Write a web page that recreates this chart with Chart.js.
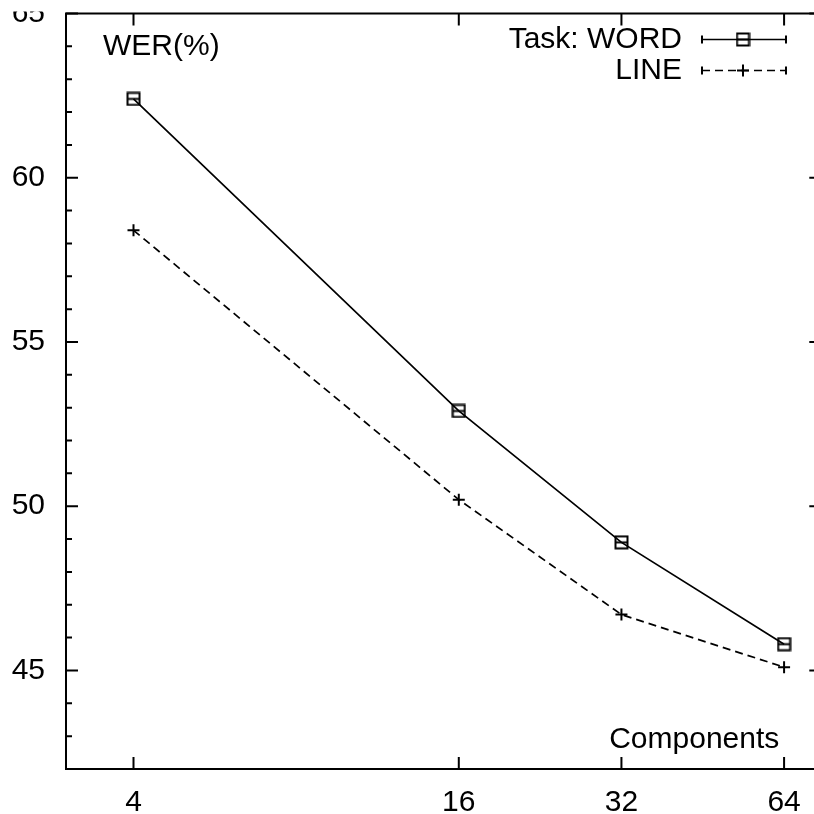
<!DOCTYPE html>
<html>
<head>
<meta charset="utf-8">
<script src="https://cdn.jsdelivr.net/npm/chart.js@4/dist/chart.umd.min.js"></script>
<style>
html,body{margin:0;padding:0;background:#fff;overflow:hidden;}
#wrap{width:830px;height:814px;}
</style>
</head>
<body>
<div id="wrap"><canvas id="c" width="830" height="814"></canvas></div>
<script>
// ---- data ----
const components = [4, 16, 32, 64];
const wordWER = [62.4, 52.9, 48.9, 45.8];
const lineWER = [58.4, 50.2, 46.7, 45.1];
const xTickValues = [4, 16, 32, 64];
const yTickValues = [45, 50, 55, 60, 65];
const seriesNames = ['Task: WORD', 'LINE'];
const yLabel = 'WER(%)';
const xLabel = 'Components';

const FONT = '"Liberation Sans", Arial, Helvetica, sans-serif';
const FSIZE = 30;

// square marker with a middle bar (gnuplot style)
function squareMarker() {
  const c = document.createElement('canvas');
  c.width = 15; c.height = 15;
  const g = c.getContext('2d');
  g.strokeStyle = '#000';
  g.lineWidth = 2;
  g.strokeRect(1.5, 1.5, 12, 12);
  g.beginPath(); g.moveTo(1.5, 7.5); g.lineTo(13.5, 7.5); g.stroke();
  return c;
}
const sq = squareMarker();

const framePlugin = {
  id: 'frame',
  afterDraw(chart) {
    const ctx = chart.ctx;
    const a = chart.chartArea;
    const xs = chart.scales.x, ys = chart.scales.y;
    ctx.save();
    ctx.strokeStyle = '#000';
    ctx.lineWidth = 2;
    ctx.lineCap = 'butt';
    // y ticks (major every 5, minor every 1), mirrored
    ctx.beginPath();
    for (let v = Math.ceil(ys.min); v <= ys.max; v++) {
      const y = ys.getPixelForValue(v);
      const len = (v % 5 === 0) ? 12 : 6;
      ctx.moveTo(a.left, y); ctx.lineTo(a.left + len, y);
      ctx.moveTo(a.right, y); ctx.lineTo(a.right - len, y);
    }
    for (const v of xTickValues) {
      const x = xs.getPixelForValue(v);
      ctx.moveTo(x, a.bottom); ctx.lineTo(x, a.bottom - 12);
      ctx.moveTo(x, a.top); ctx.lineTo(x, a.top + 12);
    }
    ctx.stroke();
    // border
    ctx.strokeRect(a.left, a.top, a.right - a.left, a.bottom - a.top);

    // axis labels inside the plot
    ctx.fillStyle = '#000';
    ctx.font = FSIZE + 'px ' + FONT;
    ctx.textBaseline = 'middle';
    ctx.textAlign = 'left';
    ctx.fillText(yLabel, a.left + 37, a.top + 33);
    ctx.textAlign = 'right';
    ctx.fillText(xLabel, a.right - 42, a.bottom - 29);

    // legend
    const rows = [
      {y: a.top + 26, dash: [], marker: 'sq'},
      {y: a.top + 57, dash: [8, 5], marker: 'plus'}
    ];
    const x0 = 702, x1 = 786, xm = 743, tx = 682;
    rows.forEach((r, i) => {
      ctx.textAlign = 'right';
      ctx.fillText(seriesNames[i], tx, r.y);
      ctx.lineWidth = 1.6;
      ctx.setLineDash(r.dash);
      ctx.beginPath(); ctx.moveTo(x0, r.y); ctx.lineTo(x1, r.y); ctx.stroke();
      ctx.setLineDash([]);
      ctx.lineWidth = 2;
      ctx.beginPath();
      ctx.moveTo(x0, r.y - 4); ctx.lineTo(x0, r.y + 4);
      ctx.moveTo(x1, r.y - 4); ctx.lineTo(x1, r.y + 4);
      ctx.stroke();
      if (r.marker === 'sq') {
        ctx.drawImage(sq, xm - 7.5, r.y - 7.5);
      } else {
        ctx.beginPath();
        ctx.moveTo(xm - 6, r.y); ctx.lineTo(xm + 6, r.y);
        ctx.moveTo(xm, r.y - 6); ctx.lineTo(xm, r.y + 6);
        ctx.stroke();
      }
    });
    // top strip of the original image is blank (label clipped)
    ctx.fillStyle = '#fff';
    ctx.fillRect(0, 0, chart.width, a.top - 2);
    ctx.restore();
  }
};

new Chart(document.getElementById('c'), {
  type: 'line',
  data: {
    datasets: [
      {
        label: seriesNames[0],
        data: components.map((c, i) => ({x: c, y: wordWER[i]})),
        borderColor: '#000',
        borderWidth: 1.7,
        pointStyle: sq,
        pointRadius: 7,
        tension: 0,
        fill: false
      },
      {
        label: seriesNames[1],
        data: components.map((c, i) => ({x: c, y: lineWER[i]})),
        borderColor: '#000',
        borderWidth: 1.7,
        borderDash: [8, 5],
        pointStyle: 'cross',
        pointRadius: 6,
        pointBorderWidth: 2,
        pointBorderColor: '#000',
        tension: 0,
        fill: false
      }
    ]
  },
  options: {
    responsive: false,
    devicePixelRatio: 1,
    animation: false,
    layout: {padding: {top: 13.5, right: 8, left: 0, bottom: 0}},
    plugins: {legend: {display: false}, tooltip: {enabled: false}},
    scales: {
      x: {
        type: 'logarithmic',
        min: 3, max: 75,
        grid: {display: false},
        border: {display: false},
        afterBuildTicks: s => { s.ticks = xTickValues.map(v => ({value: v})); },
        afterFit: s => { s.height = 45; s.paddingLeft = 0; s.paddingRight = 0; },
        ticks: {
          autoSkip: false, maxRotation: 0, color: '#000', padding: 8,
          font: {family: FONT, size: FSIZE},
          callback: v => String(v)
        }
      },
      y: {
        min: 42, max: 65,
        grid: {display: false},
        border: {display: false},
        afterBuildTicks: s => { s.ticks = yTickValues.map(v => ({value: v})); },
        afterFit: s => { s.width = 66; s.paddingTop = 0; s.paddingBottom = 0; },
        ticks: {
          autoSkip: false, color: '#000', padding: 13,
          font: {family: FONT, size: FSIZE},
          callback: v => String(v)
        }
      }
    }
  },
  plugins: [framePlugin]
});
</script>
</body>
</html>
